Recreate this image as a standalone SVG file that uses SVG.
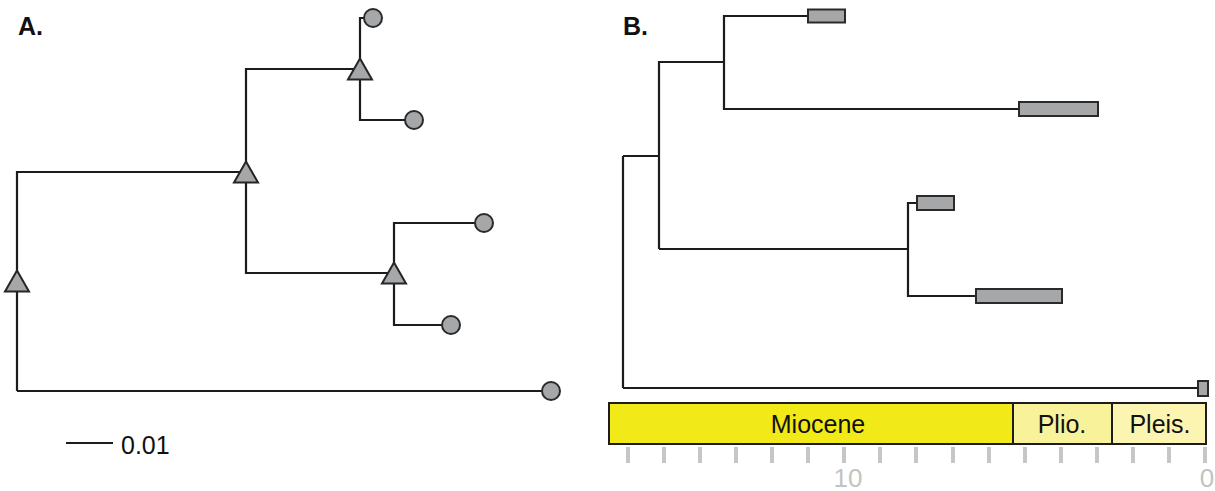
<svg xmlns="http://www.w3.org/2000/svg" width="1215" height="491" viewBox="0 0 1215 491">
<defs>
<style>
.br{fill:none;stroke:#1c1c1c;stroke-width:2.2}
.tri{fill:#a5a7a9;stroke:#262626;stroke-width:2;stroke-linejoin:miter}
.tip{fill:#a5a7a9;stroke:#2a2a2a;stroke-width:2}
.lbl{font-family:"Liberation Sans",Arial,sans-serif;fill:#111}
.pl{font-family:"Liberation Sans",Arial,sans-serif;font-weight:bold;font-size:25px;fill:#111}
.tick{stroke:#c6c6c6;stroke-width:4}
.ax{font-family:"Liberation Sans",Arial,sans-serif;font-size:26px;fill:#c3c3c3;text-anchor:middle}
.ep{stroke:#1c1c1c;stroke-width:2}
</style>
<polygon id="triShape" points="0,-10.5 12,10.5 -12,10.5"/>
</defs>
<rect width="1215" height="491" fill="#fff"/>
<text class="pl" x="18" y="35">A.</text>
<text class="pl" x="623" y="35">B.</text>
<g id="connectors">
<path class="br" d="M17,391 V172 H246"/>
<path class="br" d="M17,391 H551"/>
<path class="br" d="M360,69 H246 V273 H394"/>
<path class="br" d="M365,18 H360 V120 H414"/>
<path class="br" d="M484,223 H394 V325 H451"/>
<path class="br" d="M66,443 H113"/>
<path class="br" d="M623,156 H659 M623,388 V156"/>
<path class="br" d="M659,249 V62 H724"/>
<path class="br" d="M808,16 H724 V109 H1019"/>
<path class="br" d="M659,249 H908"/>
<path class="br" d="M917,203 H908 V296 H976"/>
<path class="br" d="M623,388 H1198"/>
</g>
<g id="nodeA-root"><use href="#triShape" class="tri" x="17" y="281"/></g>
<g id="nodeA-n1"><use href="#triShape" class="tri" x="246" y="172"/></g>
<g id="nodeA-n2"><use href="#triShape" class="tri" x="360" y="69"/></g>
<g id="nodeA-n3"><use href="#triShape" class="tri" x="394" y="273"/></g>
<g id="tipA-1"><circle class="tip" cx="373" cy="18" r="9"/></g>
<g id="tipA-2"><circle class="tip" cx="414" cy="120" r="9"/></g>
<g id="tipA-3"><circle class="tip" cx="484" cy="223" r="9"/></g>
<g id="tipA-4"><circle class="tip" cx="451" cy="325" r="9"/></g>
<g id="tipA-5"><circle class="tip" cx="551" cy="391" r="9"/></g>
<g id="scale"><text class="lbl" x="121" y="454" font-size="25">0.01</text></g>
<g id="tipB-1"><rect class="tip" x="808" y="9.5" width="37" height="13"/></g>
<g id="tipB-2"><rect class="tip" x="1019" y="102" width="79" height="14"/></g>
<g id="tipB-3"><rect class="tip" x="917" y="196" width="37" height="14"/></g>
<g id="tipB-4"><rect class="tip" x="976" y="289" width="86" height="14"/></g>
<g id="tipB-5"><rect class="tip" x="1198" y="381" width="10" height="15"/></g>
<g id="timescale">
<rect x="609" y="403" width="404" height="41" fill="#f2e918" class="ep"/>
<rect x="1013" y="403" width="99" height="41" fill="#f8f39b" class="ep"/>
<rect x="1112" y="403" width="94" height="41" fill="#fcf5b1" class="ep"/>
<text class="lbl" x="818" y="433" font-size="25" text-anchor="middle">Miocene</text>
<text class="lbl" x="1062" y="433" font-size="25" text-anchor="middle">Plio.</text>
<text class="lbl" x="1160" y="433" font-size="25" text-anchor="middle">Pleis.</text>
<g class="tick">
<line x1="628" y1="447" x2="628" y2="463"/>
<line x1="664" y1="447" x2="664" y2="463"/>
<line x1="700" y1="447" x2="700" y2="463"/>
<line x1="736" y1="447" x2="736" y2="463"/>
<line x1="772" y1="447" x2="772" y2="463"/>
<line x1="808" y1="447" x2="808" y2="463"/>
<line x1="844" y1="447" x2="844" y2="463"/>
<line x1="880" y1="447" x2="880" y2="463"/>
<line x1="916" y1="447" x2="916" y2="463"/>
<line x1="953" y1="447" x2="953" y2="463"/>
<line x1="989" y1="447" x2="989" y2="463"/>
<line x1="1025" y1="447" x2="1025" y2="463"/>
<line x1="1061" y1="447" x2="1061" y2="463"/>
<line x1="1097" y1="447" x2="1097" y2="463"/>
<line x1="1133" y1="447" x2="1133" y2="463"/>
<line x1="1169" y1="447" x2="1169" y2="463"/>
<line x1="1205" y1="447" x2="1205" y2="463"/>
</g>
<text class="ax" x="848" y="487">10</text>
<text class="ax" x="1207" y="487">0</text>
</g>
</svg>
